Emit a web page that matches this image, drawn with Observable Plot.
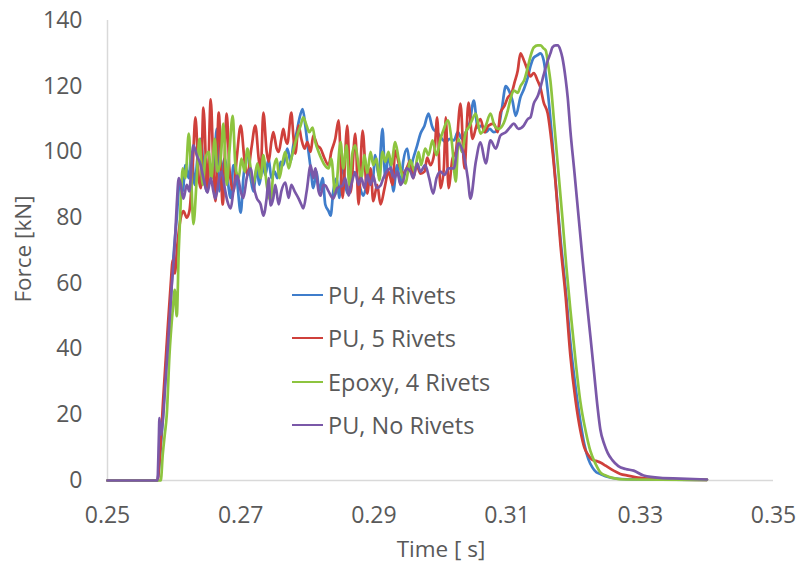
<!DOCTYPE html>
<html>
<head>
<meta charset="utf-8">
<script src="https://cdn.jsdelivr.net/npm/d3@7"></script>
<script src="https://cdn.jsdelivr.net/npm/@observablehq/plot@0.6"></script>
<style>
  body { margin: 0; background: #fff; }
  #wrap { position: relative; width: 797px; height: 567px; font-family: "Open Sans", sans-serif; color: #595959; }
  #wrap svg { position: absolute; left: 0; top: 0; }
  .ytitle { position: absolute; left: 22px; top: 249px; transform: translate(-50%, -50%) rotate(-90deg); font-size: 22.5px; white-space: nowrap; }
  .xtitle { position: absolute; left: 441px; top: 548px; transform: translate(-50%, -50%); font-size: 22.5px; white-space: nowrap; }
  .legend { position: absolute; left: 292px; top: 273px; }
  .legend .row { display: flex; align-items: center; height: 43.5px; font-size: 23.5px; white-space: nowrap; }
  .legend .sw { width: 31px; height: 0; border-top: 2.5px solid; margin-right: 5px; }
</style>
</head>
<body>
<div id="wrap"></div>
<script>
// Series names and colours
const seriesNames = ["PU, 4 Rivets", "PU, 5 Rivets", "Epoxy, 4 Rivets", "PU, No Rivets"];
const seriesColors = ["#3f7dcb", "#cf403b", "#8dc43f", "#7a58a8"];

// Axis ticks
const xTicks = [0.25, 0.27, 0.29, 0.31, 0.33, 0.35];
const yTicks = [0, 20, 40, 60, 80, 100, 120, 140];

// Each series: [time in ms, force in kN]
const pu4Rivets = [[250.0,0],[257.5,0],[257.8,5],[258.4,22],[259.0,42],[259.5,55],[259.9,68],[260.4,80],[260.8,90],[261.3,88],[261.7,96],[262.2,92],[262.6,100],[263.1,90],[263.5,98],[264.0,104],[264.4,96],[264.9,88],[265.3,97],[265.9,92],[266.4,107],[266.8,88],[267.1,92],[267.6,98],[268.0,92],[268.5,86],[268.9,96],[269.5,90],[270.0,81.5],[270.4,92],[271.0,99.5],[271.5,92],[271.9,88],[272.4,95],[272.8,90],[273.3,96],[273.7,93],[274.2,98],[274.6,92],[275.1,94],[275.5,92],[276.0,97],[276.4,96],[277.0,101],[277.5,97],[277.9,102],[278.4,106],[278.8,110],[279.3,113],[279.7,108],[280.0,103],[280.5,95],[280.9,89],[281.4,94],[281.8,88],[282.3,92],[282.7,84],[283.2,82],[283.5,80.6],[283.9,88],[284.4,92],[284.8,86],[285.3,96.8],[285.7,90],[286.2,87],[286.6,94],[287.2,93.7],[287.8,90],[288.4,86.7],[288.9,90],[289.3,94],[289.8,91],[290.2,99],[290.7,93],[291.3,107],[291.7,92],[292.2,99],[292.6,94],[292.9,88],[293.5,96],[294.0,90],[294.4,97],[295.0,101],[295.5,95],[295.9,98],[296.5,102],[297.0,105.6],[297.6,108],[298.2,111.7],[298.7,108],[298.9,107],[299.5,106],[300.2,104],[300.8,103],[301.4,104],[302.0,103.5],[302.6,106],[303.2,104],[303.8,106],[304.4,109],[305.0,115.6],[305.6,107.4],[306.2,108],[306.8,106],[307.4,107],[308.0,106],[308.6,106.5],[309.2,113],[309.8,120],[310.2,119],[310.8,115.6],[311.3,111],[312.0,116.6],[312.5,119],[313.1,122.6],[313.5,126],[314.0,128.7],[314.6,129.5],[315.0,130],[315.5,127.8],[315.9,122],[316.2,116.6],[316.8,103],[317.4,88],[318.0,74],[318.8,58],[319.5,42],[320.3,28],[321.0,18],[321.6,11],[322.2,6.5],[322.8,4],[323.4,2.5],[324.0,2],[324.9,1.2],[326.3,0.6],[330.0,0.3],[340.0,0.2]];

const pu5Rivets = [[250.0,0],[257.5,0],[257.8,6],[258.4,26],[259.0,45],[259.5,60],[259.8,67],[260.1,63],[260.5,72],[261.0,80],[261.4,82],[261.9,80],[262.3,82],[262.8,96],[263.2,110.5],[263.7,92],[264.0,89],[264.4,113.5],[265.0,88],[265.5,116],[265.9,95],[266.2,85],[266.7,112],[267.3,84],[267.9,111.7],[268.3,95],[268.9,88],[269.4,98],[270.0,108],[270.6,97],[271.0,93],[271.6,101],[272.2,108],[272.7,98],[273.0,94],[273.4,112],[273.9,100],[274.2,97],[274.6,103],[274.9,106],[275.4,101],[275.7,100],[276.1,104],[276.4,107],[276.7,104],[277.0,102.5],[277.6,112],[277.9,105],[278.2,99.5],[278.7,108],[279.1,104],[279.6,101],[280.0,103],[280.5,100],[280.9,105],[281.5,102],[282.0,101],[282.6,98],[283.2,96],[283.6,100],[284.2,104],[284.7,109.6],[285.3,86],[286.0,108],[286.5,87.6],[287.2,105.6],[287.7,84],[288.3,106.5],[289.0,87.3],[289.5,95],[289.9,85],[290.5,90],[291.0,84],[291.6,89],[292.2,94],[292.8,90],[293.2,100.4],[293.8,96],[294.4,93.4],[294.9,95],[295.5,97.4],[295.9,92],[296.4,96],[297.0,93.4],[297.6,94],[298.0,98.3],[298.5,96],[299.1,100],[299.5,110.5],[300.0,89],[300.5,95],[300.8,110.5],[301.2,89],[301.8,98],[302.3,100],[303.0,114.7],[303.6,95],[304.2,115],[304.8,104],[305.4,108],[306.0,110],[306.6,106],[307.2,108],[308.0,108.6],[308.6,106],[309.0,112],[309.6,114],[310.1,116.5],[310.7,118],[311.1,121],[311.6,124.8],[312.0,130],[312.5,128],[313.1,124.8],[313.5,123],[314.0,124],[314.6,121.6],[315.0,119.6],[315.5,115],[316.1,111.7],[316.5,106],[317.3,90],[318.0,72],[318.8,55.7],[319.5,38],[320.3,24],[321.0,15.2],[321.6,10],[322.1,8],[322.8,6.3],[323.6,5.8],[324.0,5.5],[324.8,4.5],[326.0,3],[327.0,2],[328.1,1.5],[330.0,0.8],[333.0,0.4],[340.0,0.2]];

const epoxy4Rivets = [[250.0,0],[257.5,0],[258.0,0],[258.3,8],[258.6,14],[258.9,20],[259.3,38],[259.8,52],[260.1,58],[260.4,50],[260.7,70],[261.0,85],[261.3,95],[261.7,92],[262.2,105.6],[262.5,96],[262.9,78],[263.4,92],[263.8,104],[264.3,90],[264.7,98],[265.2,100],[265.6,92],[266.1,104],[266.5,94],[267.0,98],[267.4,108.6],[267.9,90],[268.3,100],[268.8,111],[269.2,96],[269.7,92],[270.1,98],[270.6,94],[271.0,101],[271.5,95],[271.9,90],[272.5,96.5],[273.0,92],[273.4,99],[273.9,90],[274.5,85],[274.9,94],[275.4,98],[275.8,92],[276.3,97],[276.7,100],[277.2,95],[277.6,98],[278.1,102],[278.5,105],[279.0,108],[279.4,110.5],[279.9,108],[280.3,106],[280.8,107.4],[281.2,103],[281.7,100],[282.1,98],[282.6,96],[283.2,95],[283.6,98],[284.2,87],[285.0,103],[285.4,95],[285.9,102],[286.3,90],[286.8,100],[287.2,102],[287.7,96],[288.1,92],[288.6,99],[289.0,93.4],[289.5,100],[289.9,96],[290.4,98],[290.8,91.3],[291.3,100],[291.7,97],[292.2,100],[292.6,96],[293.2,103],[293.7,98],[294.1,94],[294.7,90.4],[295.5,97.4],[296.1,94],[296.7,100],[297.1,96],[297.7,101],[298.2,99],[298.8,103.5],[299.4,99],[300.0,104],[300.5,107],[301.1,109.6],[301.7,103],[302.3,91],[302.7,104],[303.2,100],[303.8,106],[304.4,108],[304.8,110],[305.3,111.7],[306.0,105.6],[306.8,108],[307.5,111.7],[308.1,108],[308.7,107],[309.3,108],[310.1,112.6],[310.5,116],[311.0,118.7],[311.6,118],[312.0,120],[312.6,122],[313.1,125.7],[313.5,129],[314.0,131.8],[314.6,132.4],[315.0,132.4],[315.5,131.5],[315.8,130.9],[316.2,126],[316.5,121.7],[317.1,108],[317.7,94],[318.3,80],[318.9,65],[319.5,52],[320.3,36],[321.0,24],[321.8,15],[322.5,9],[323.3,5],[324.0,2.5],[324.8,1.5],[325.8,0.8],[327.8,0.3],[340.0,0.2]];

const puNoRivets = [[250.0,0],[257.5,0],[257.7,12],[257.8,19],[258.0,14],[258.3,18],[258.7,30],[259.2,45],[259.6,58],[260.1,72],[260.4,84],[260.7,92],[261.0,90],[261.4,85.8],[261.9,90],[262.3,88],[262.6,96],[262.9,102],[263.4,99],[264.0,95.9],[264.4,92],[265.0,87.6],[265.5,92],[265.9,88],[266.2,85.8],[266.7,91],[267.1,94],[267.6,89],[268.0,85],[268.5,82.8],[268.9,88],[269.5,92.8],[270.0,88],[270.4,86],[270.9,92],[271.5,95],[271.9,90],[272.4,86],[273.0,84],[273.4,80.6],[273.9,86],[274.2,92],[274.5,83.7],[274.9,86],[275.2,90],[275.7,84],[276.1,88],[276.7,90.7],[277.2,86],[277.6,90],[278.1,88],[278.7,85.8],[279.1,84],[279.4,82.8],[279.9,88],[280.5,95.9],[280.9,92],[281.2,95],[281.7,88],[282.0,86.7],[282.4,90],[282.7,89.8],[283.2,88],[283.9,85.8],[284.5,89],[285.3,89.8],[285.7,92],[286.2,86.7],[286.6,90],[287.2,93.7],[287.7,90],[288.1,92],[288.6,89],[289.0,93],[289.5,90],[289.9,92.8],[290.4,89],[291.0,89.8],[291.4,92],[291.9,94],[292.5,95],[293.1,92],[293.5,94],[294.0,90],[294.4,91.3],[294.9,95],[295.5,94],[295.9,92],[296.5,96.5],[297.0,94],[297.7,96],[298.3,92],[298.9,87.3],[299.4,92],[300.0,94],[300.6,93],[301.2,95],[302.0,95],[302.7,102.6],[303.5,99],[304.1,92],[304.5,85.8],[305.3,97],[306.0,102.9],[306.8,96.5],[307.5,103.5],[308.3,101],[309.0,105],[309.8,106],[310.4,107.4],[311.0,108.6],[311.7,107],[312.5,108],[313.1,110],[313.5,110.5],[314.0,114.7],[314.6,117],[315.0,119.6],[315.5,123.5],[316.1,127.8],[316.5,130],[316.8,131.8],[317.3,132.4],[317.6,132.4],[318.0,131],[318.3,128.7],[318.8,122],[319.1,116.6],[319.5,106.5],[320.1,94],[320.7,81],[321.3,68],[321.9,55.7],[322.5,44],[323.1,32],[323.6,22],[324.0,15.5],[324.6,11],[325.1,8.4],[325.8,6.2],[326.7,4.4],[327.8,3.5],[329.0,3],[330.5,1.5],[333.0,0.8],[336.0,0.6],[340.0,0.3]];

const seriesData = [pu4Rivets, pu5Rivets, epoxy4Rivets, puNoRivets];

const rows = [];
seriesData.forEach((arr, i) => {
  arr.forEach(([ms, kN]) => rows.push({ series: seriesNames[i], time: ms / 1000, force: kN }));
});

const grey = "#595959";
const chart = Plot.plot({
  width: 797,
  height: 567,
  marginLeft: 107,
  marginRight: 24,
  marginTop: 20,
  marginBottom: 87,
  style: { fontFamily: "'Open Sans', sans-serif", fontSize: "23px", color: grey, background: "transparent" },
  x: { domain: [0.25, 0.35] },
  y: { domain: [0, 140] },
  color: { domain: seriesNames, range: seriesColors },
  marks: [
    Plot.ruleX([0.25], { y1: 0, y2: 140, stroke: "#d9d9d9", strokeWidth: 1.5 }),
    Plot.ruleY([0], { stroke: "#d9d9d9", strokeWidth: 1.5 }),
    Plot.axisX({ ticks: xTicks, tickFormat: d => d.toFixed(2), tickSize: 0, tickPadding: 26, label: null, fill: grey }),
    Plot.axisY({ ticks: yTicks, tickSize: 0, tickPadding: 25, label: null, fill: grey }),
    Plot.line(rows, { x: "time", y: "force", z: "series", stroke: "series", strokeWidth: 2.7, curve: "monotone-x" })
  ]
});

const wrap = document.getElementById("wrap");
wrap.appendChild(chart);

const yt = document.createElement("div");
yt.className = "ytitle";
yt.textContent = "Force [kN]";
wrap.appendChild(yt);

const xt = document.createElement("div");
xt.className = "xtitle";
xt.textContent = "Time [ s]";
wrap.appendChild(xt);

const leg = document.createElement("div");
leg.className = "legend";
seriesNames.forEach((name, i) => {
  const row = document.createElement("div");
  row.className = "row";
  const sw = document.createElement("span");
  sw.className = "sw";
  sw.style.borderTopColor = seriesColors[i];
  const tx = document.createElement("span");
  tx.textContent = name;
  row.appendChild(sw);
  row.appendChild(tx);
  leg.appendChild(row);
});
wrap.appendChild(leg);
</script>
</body>
</html>
